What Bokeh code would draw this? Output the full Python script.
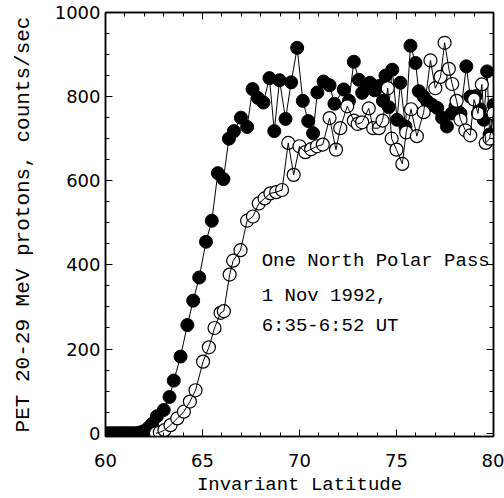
from bokeh.plotting import figure
from bokeh.models import LinearAxis, Range1d, Label, SingleIntervalTicker
from bokeh.embed import file_html
from bokeh.resources import INLINE

# Filled circles series (invariant latitude, counts/sec)
filled_lat = [60.0, 60.2, 60.4, 60.6, 60.8, 61.0, 61.2, 61.4, 61.6, 61.8, 62.0, 62.2,
              62.4, 62.65, 63.0, 63.3, 63.52, 63.87, 64.22, 64.52, 64.83, 65.18, 65.48,
              65.79, 66.08, 66.36, 66.62, 66.98, 67.3, 67.58, 67.85, 68.14, 68.45, 68.7,
              68.97, 69.28, 69.57, 69.88, 70.17, 70.45, 70.7, 70.92, 71.24, 71.55, 71.8,
              72.28, 72.55, 72.8, 73.06, 73.23, 73.45, 73.63, 73.87, 74.09, 74.3, 74.43,
              74.6, 74.78, 75.03, 75.2, 75.46, 75.72, 75.98, 76.15, 76.4, 76.58, 76.85,
              77.1, 77.35, 77.6, 77.85, 78.04, 78.3, 78.6, 78.8, 79.07, 79.3, 79.5, 79.67,
              79.8, 80.0]
filled_val = [0, 0, 0, 0, 0, 0, 0, 0, 0, 2, 5, 12,
              22, 40, 55, 86, 125, 182, 257, 315, 370, 455, 505,
              618, 604, 700, 718, 750, 728, 818, 797, 786, 844, 718,
              839, 747, 834, 916, 790, 742, 713, 810, 836, 827, 783,
              817, 790, 883, 840, 809, 820, 833, 815, 825, 790, 850,
              775, 864, 745, 833, 729, 921, 880, 813, 800, 789, 780,
              773, 750, 729, 760, 777, 760, 872, 800, 801, 770, 745, 860,
              710, 780]

# Open circles series
open_lat = [62.6, 62.8, 63.04, 63.35, 63.7, 64.04, 64.35, 64.64, 65.03, 65.33, 65.62,
            65.93, 66.1, 66.4, 66.58, 66.96, 67.3, 67.6, 67.9, 68.2, 68.5, 68.8, 69.1,
            69.42, 69.7, 70.0, 70.3, 70.6, 70.9, 71.2, 71.55, 71.88, 72.1, 72.46, 72.8,
            73.0, 73.23, 73.57, 73.8, 74.09, 74.28, 74.55, 74.75, 75.0, 75.3, 75.5, 75.75,
            76.05, 76.4, 76.75, 77.0, 77.27, 77.48, 77.7, 77.87, 78.1, 78.3, 78.55, 78.8,
            79.0, 79.2, 79.4, 79.6, 79.8, 80.0]
open_val = [0, 2, 7, 19, 35, 51, 75, 102, 170, 204, 250,
            286, 290, 377, 410, 435, 505, 515, 546, 558, 570, 573, 578,
            690, 614, 682, 668, 675, 682, 686, 749, 674, 725, 777, 743,
            735, 739, 772, 725, 725, 743, 820, 700, 674, 640, 715, 770,
            706, 763, 886, 820, 847, 928, 866, 830, 790, 745, 720, 708,
            793, 760, 829, 690, 700, 760]

x_major = 5
y_major = 200
annotation_lines = ["One North Polar Pass", "1 Nov 1992,", "6:35-6:52 UT"]

p = figure(width=504, height=498, x_range=Range1d(60, 80), y_range=Range1d(-8, 1000),
           output_backend="svg", toolbar_location=None,
           min_border_left=105, min_border_right=11, min_border_top=12, min_border_bottom=62,
           background_fill_color="white", border_fill_color="white")
p.grid.visible = False
p.outline_line_color = "black"
p.outline_line_width = 1.5

xt = SingleIntervalTicker(interval=x_major, num_minor_ticks=5)
yt = SingleIntervalTicker(interval=y_major, num_minor_ticks=4)

bottom = p.below[0]
left = p.left[0]
bottom.ticker = xt
left.ticker = yt
top = LinearAxis(ticker=xt)
right = LinearAxis(ticker=yt)
p.add_layout(top, "above")
p.add_layout(right, "right")

for ax in [bottom, left, top, right]:
    ax.major_tick_in = 7
    ax.major_tick_out = 0
    ax.minor_tick_in = 4
    ax.minor_tick_out = 0
    ax.axis_line_color = "black"
    ax.axis_line_width = 1.5
    ax.major_tick_line_color = "black"
    ax.minor_tick_line_color = "black"
    ax.major_label_text_font = "DejaVu Sans"
    ax.major_label_text_font_size = "18px"
    ax.major_label_text_color = "black"

for ax in [top, right]:
    ax.major_label_text_font_size = "1px"
    ax.major_label_text_color = None
    ax.major_label_standoff = 0

bottom.major_label_standoff = 17
left.major_label_standoff = 5
bottom.axis_label = "Invariant Latitude"
left.axis_label = "PET 20-29 MeV protons, counts/sec"
for ax in [bottom, left]:
    ax.axis_label_text_font = "Liberation Mono"
    ax.axis_label_text_font_style = "normal"
    ax.axis_label_text_color = "black"
bottom.axis_label_text_font_size = "19px"
left.axis_label_text_font_size = "21px"
bottom.axis_label_standoff = 4
left.axis_label_standoff = 17

# filled series
p.line(filled_lat, filled_val, line_color="black", line_width=1)
p.scatter(filled_lat, filled_val, marker="circle", size=13, fill_color="black", line_color="black")
# open series
p.scatter(open_lat, open_val, marker="circle", size=13, fill_color="white", line_color="black", line_width=1.2)
p.line(open_lat, open_val, line_color="black", line_width=1)

ys = [410, 325, 255]
for t, yy in zip(annotation_lines, ys):
    p.add_layout(Label(x=68.05, y=yy, text=t, text_font="Liberation Mono", text_font_size="19px",
                       text_color="black", text_baseline="middle", text_align="left"))

open("out.html", "w").write(file_html(p, INLINE))
